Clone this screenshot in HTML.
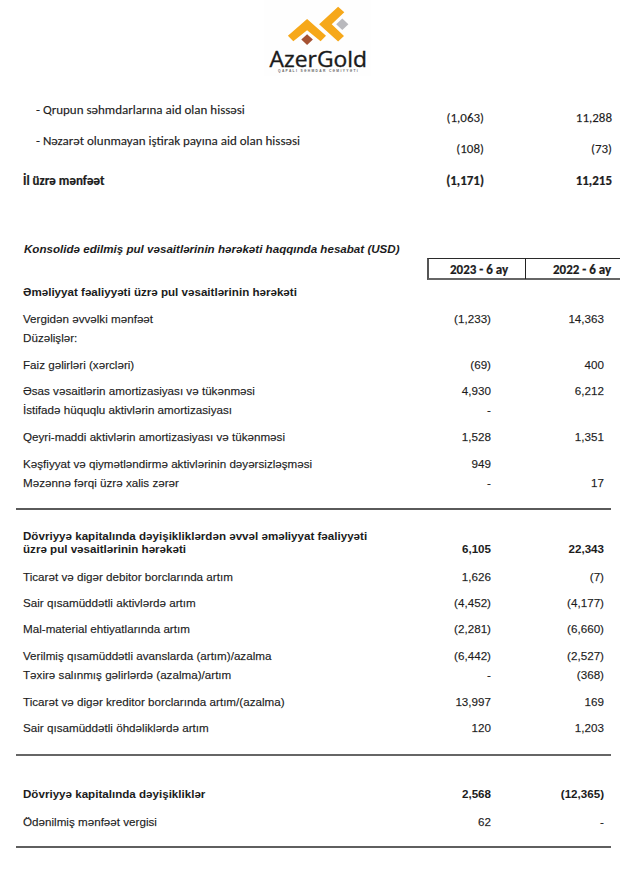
<!DOCTYPE html>
<html lang="az">
<head>
<meta charset="utf-8">
<title>AzerGold</title>
<style>
html,body{margin:0;padding:0;background:#fff;}
body{width:620px;height:875px;position:relative;overflow:hidden;color:#1c1c1c;}
.c{font-family:"Carlito","Liberation Sans",sans-serif;font-size:13px;}
.a{font-family:"Liberation Sans",Arial,sans-serif;font-size:11.65px;}
.a.b{font-size:11.6px;}
.t{position:absolute;white-space:nowrap;line-height:1;}
.r{text-align:right;}
.b{font-weight:bold;}
.i{font-style:italic;}
.hr{position:absolute;}
.a,.c{-webkit-text-stroke:0.25px rgba(28,28,28,0.6);}
.b{-webkit-text-stroke:0;}
.c.b{-webkit-text-stroke:0.2px #1c1c1c;}
.cs text{font-family:"Carlito","Liberation Sans",sans-serif;font-size:13px;fill:#1c1c1c;}
.cs .cr{stroke:rgba(28,28,28,0.6);stroke-width:0.25px;}
.cs .cb{stroke:#1c1c1c;stroke-width:0.2px;}
</style>
</head>
<body>
<div style="position:absolute;left:264px;top:0;width:107px;height:76px;background:#fefefe"></div>
<svg style="position:absolute;left:0;top:0" width="620" height="80" viewBox="0 0 620 80">
  <g fill="#f6a81a">
    <polygon points="307.1,19.1 326,35.8 320.6,41.2 307.1,30.3 293.3,41.2 287.9,35.8"/>
    <polygon points="319.1,24.3 338.1,6.8 344.3,12.3 331.7,24.3 344,35.9 338.1,41.4"/>
  </g>
  <polygon fill="#b9b9bd" points="342.3,18.6 348.4,24.3 342.3,30.1 336.2,24.3"/>
  <polygon fill="#a65232" points="307.1,34.2 312.9,39.6 307.1,45.1 301.3,39.6"/>
  <text x="269.6" y="66.5" textLength="97.4" lengthAdjust="spacingAndGlyphs" font-family="Open Sans, Liberation Sans, sans-serif" font-size="21" fill="#1a1a1a" stroke="#1a1a1a" stroke-width="0.35">AzerGold</text>
  <text x="278" y="71.7" textLength="79.7" lengthAdjust="spacing" font-family="Liberation Sans, sans-serif" font-weight="bold" font-size="3.3" fill="#6a6a6a">QAPALI SƏHMDAR CƏMİYYƏTİ</text>
</svg>
<div class="t a b i" style="left:24px;top:243px">Konsolidə edilmiş pul vəsaitlərinin hərəkəti haqqında hesabat (USD)</div>
<div style="position:absolute;left:427px;top:258px;width:220px;height:22px;box-sizing:border-box;border-top:1px solid #2a2a2a;border-left:2px solid #555;border-bottom:2px solid #666;"></div>
<div style="position:absolute;left:525px;top:258px;width:1px;height:21px;background:#222;"></div>
<svg class="cs" style="position:absolute;left:0;top:0" width="620" height="290" viewBox="0 0 620 290">
<text class="cr" x="36.00" y="114" textLength="208.81" lengthAdjust="spacingAndGlyphs">- Qrupun səhmdarlarına aid olan hissəsi</text>
<text class="cr" x="446.52" y="122" textLength="37.48" lengthAdjust="spacingAndGlyphs">(1,063)</text>
<text class="cr" x="575.80" y="122" textLength="36.2" lengthAdjust="spacingAndGlyphs">11,288</text>
<text class="cr" x="36.00" y="145" textLength="264.0" lengthAdjust="spacingAndGlyphs">- Nəzarət olunmayan iştirak payına aid olan hissəsi</text>
<text class="cr" x="456.34" y="153" textLength="27.66" lengthAdjust="spacingAndGlyphs">(108)</text>
<text class="cr" x="590.94" y="153" textLength="21.06" lengthAdjust="spacingAndGlyphs">(73)</text>
<text class="cb" x="23.00" y="185" textLength="81.53" lengthAdjust="spacingAndGlyphs" font-weight="bold">İl üzrə mənfəət</text>
<text class="cb" x="446.19" y="185" textLength="37.81" lengthAdjust="spacingAndGlyphs" font-weight="bold">(1,171)</text>
<text class="cb" x="575.70" y="185" textLength="36.3" lengthAdjust="spacingAndGlyphs" font-weight="bold">11,215</text>
<text class="cb" x="450.00" y="274" textLength="58.09" lengthAdjust="spacingAndGlyphs" font-weight="bold">2023 - 6 ay</text>
<text class="cb" x="553.00" y="274" textLength="58.09" lengthAdjust="spacingAndGlyphs" font-weight="bold">2022 - 6 ay</text>
</svg>
<div class="t a b" style="left:23px;top:286px">Əməliyyat fəaliyyəti üzrə pul vəsaitlərinin hərəkəti</div>
<div class="t a" style="left:23px;top:313px">Vergidən əvvəlki mənfəət</div>
<div class="t a r" style="right:129px;top:313px">(1,233)</div>
<div class="t a r" style="right:16px;top:313px">14,363</div>
<div class="t a" style="left:23px;top:332px">Düzəlişlər:</div>
<div class="t a" style="left:23px;top:359px">Faiz gəlirləri (xərcləri)</div>
<div class="t a r" style="right:129px;top:359px">(69)</div>
<div class="t a r" style="right:16px;top:359px">400</div>
<div class="t a" style="left:23px;top:385px">Əsas vəsaitlərin amortizasiyası və tükənməsi</div>
<div class="t a r" style="right:129px;top:385px">4,930</div>
<div class="t a r" style="right:16px;top:385px">6,212</div>
<div class="t a" style="left:23px;top:404px">İstifadə hüquqlu aktivlərin amortizasiyası</div>
<div class="t a r" style="right:129px;top:404px">-</div>
<div class="t a" style="left:23px;top:431px">Qeyri-maddi aktivlərin amortizasiyası və tükənməsi</div>
<div class="t a r" style="right:129px;top:431px">1,528</div>
<div class="t a r" style="right:16px;top:431px">1,351</div>
<div class="t a" style="left:23px;top:458px">Kəşfiyyat və qiymətləndirmə aktivlərinin dəyərsizləşməsi</div>
<div class="t a r" style="right:129px;top:458px">949</div>
<div class="t a" style="left:23px;top:477px">Məzənnə fərqi üzrə xalis zərər</div>
<div class="t a r" style="right:129px;top:477px">-</div>
<div class="t a r" style="right:16px;top:477px">17</div>
<div class="t a b" style="left:23px;top:530px">Dövriyyə kapitalında dəyişikliklərdən əvvəl əməliyyat fəaliyyəti</div>
<div class="t a b" style="left:23px;top:543px">üzrə pul vəsaitlərinin hərəkəti</div>
<div class="t a r b" style="right:129px;top:543px">6,105</div>
<div class="t a r b" style="right:16px;top:543px">22,343</div>
<div class="t a" style="left:23px;top:571px">Ticarət və digər debitor borclarında artım</div>
<div class="t a r" style="right:129px;top:571px">1,626</div>
<div class="t a r" style="right:16px;top:571px">(7)</div>
<div class="t a" style="left:23px;top:597px">Sair qısamüddətli aktivlərdə artım</div>
<div class="t a r" style="right:129px;top:597px">(4,452)</div>
<div class="t a r" style="right:16px;top:597px">(4,177)</div>
<div class="t a" style="left:23px;top:623px">Mal-material ehtiyatlarında artım</div>
<div class="t a r" style="right:129px;top:623px">(2,281)</div>
<div class="t a r" style="right:16px;top:623px">(6,660)</div>
<div class="t a" style="left:23px;top:650px">Verilmiş qısamüddətli avanslarda (artım)/azalma</div>
<div class="t a r" style="right:129px;top:650px">(6,442)</div>
<div class="t a r" style="right:16px;top:650px">(2,527)</div>
<div class="t a" style="left:23px;top:669px">Təxirə salınmış gəlirlərdə (azalma)/artım</div>
<div class="t a r" style="right:129px;top:669px">-</div>
<div class="t a r" style="right:16px;top:669px">(368)</div>
<div class="t a" style="left:23px;top:696px">Ticarət və digər kreditor borclarında artım/(azalma)</div>
<div class="t a r" style="right:129px;top:696px">13,997</div>
<div class="t a r" style="right:16px;top:696px">169</div>
<div class="t a" style="left:23px;top:722px">Sair qısamüddətli öhdəliklərdə artım</div>
<div class="t a r" style="right:129px;top:722px">120</div>
<div class="t a r" style="right:16px;top:722px">1,203</div>
<div class="t a b" style="left:23px;top:788px">Dövriyyə kapitalında dəyişikliklər</div>
<div class="t a r b" style="right:129px;top:788px">2,568</div>
<div class="t a r b" style="right:16px;top:788px">(12,365)</div>
<div class="t a" style="left:23px;top:816px">Ödənilmiş mənfəət vergisi</div>
<div class="t a r" style="right:129px;top:816px">62</div>
<div class="t a r" style="right:16px;top:816px">-</div>
<div class="hr" style="left:16px;top:508px;width:595px;height:2px;background:#5a5a5a"></div>
<div class="hr" style="left:16px;top:754px;width:595px;height:2px;background:#666"></div>
<div class="hr" style="left:16px;top:846px;width:595px;height:2px;background:#5f5f5f"></div>
</body>
</html>
